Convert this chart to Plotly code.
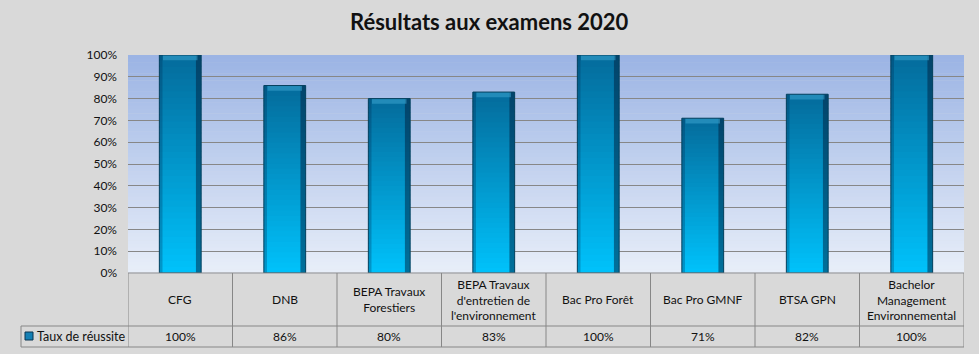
import plotly.graph_objects as go

# ---------------- data ----------------
categories = ["CFG", "DNB", "BEPA Travaux<br>Forestiers",
              "BEPA Travaux<br>d'entretien de<br>l'environnement",
              "Bac Pro Forêt", "Bac Pro GMNF", "BTSA GPN",
              "Bachelor<br>Management<br>Environnemental"]
values = [100, 86, 80, 83, 100, 71, 82, 100]
value_labels = ["100%", "86%", "80%", "83%", "100%", "71%", "82%", "100%"]
series_name = "Taux de réussite"
chart_title = "Résultats aux examens 2020"
y_ticks = [0, 10, 20, 30, 40, 50, 60, 70, 80, 90, 100]
y_tick_labels = ["0%", "10%", "20%", "30%", "40%", "50%", "60%", "70%", "80%", "90%", "100%"]

# ---------------- layout helpers ----------------
W, H = 979, 354
PLOT_L, PLOT_R, PLOT_T, PLOT_B = 128, 964, 55, 273
ROW1_B, ROW2_B, LEG_L = 326, 347, 21
FONT = "Lato, sans-serif"
GRID = "#878787"
TXT = "#111111"


def px(p):
    return p / W


def py(p):
    return 1 - p / H


x_pos = list(range(len(categories)))
BAR_W = 0.40

fig = go.Figure()

# gradient bars: per-bar vertical gradient built from stacked slices
N = 36
c_bot = (0, 193, 250)
c_top = (4, 108, 156)
for i in range(N):
    t = i / (N - 1)
    col = "rgb({},{},{})".format(*[round(c_bot[k] + (c_top[k] - c_bot[k]) * t) for k in range(3)])
    seg = [v / N * (1.0 if i == N - 1 else 1.25) for v in values]
    base = [v * i / N for v in values]
    fig.add_trace(go.Bar(x=x_pos, y=seg, base=base, width=BAR_W,
                         marker=dict(color=col, line=dict(width=0)),
                         showlegend=False, hoverinfo="skip"))

# bevel shading: right dark edge, left edge, top cap
fig.add_trace(go.Bar(x=x_pos, y=values, width=0.05, offset=BAR_W / 2 - 0.05,
                     marker=dict(color="rgba(0,30,60,0.5)", line=dict(width=0)),
                     showlegend=False, hoverinfo="skip"))
fig.add_trace(go.Bar(x=x_pos, y=values, width=0.03, offset=-BAR_W / 2,
                     marker=dict(color="rgba(0,40,80,0.28)", line=dict(width=0)),
                     showlegend=False, hoverinfo="skip"))
fig.add_trace(go.Bar(x=x_pos, y=[2.4 for v in values], base=[v - 2.4 for v in values],
                     width=BAR_W - 0.07,
                     marker=dict(color="rgba(60,165,210,0.55)", line=dict(width=0)),
                     showlegend=False, hoverinfo="skip"))
# outline / actual series
fig.add_trace(go.Bar(x=x_pos, y=values, width=BAR_W, name=series_name,
                     marker=dict(color="rgba(0,0,0,0)", line=dict(color="#06405e", width=1)),
                     showlegend=False))

shapes = []
# plot area gradient background
NB = 60
b_top = (155, 180, 228)
b_bot = (232, 238, 249)
for i in range(NB):
    t = i / NB
    col = "rgb({},{},{})".format(*[round(b_top[k] + (b_bot[k] - b_top[k]) * (t + 0.5 / NB)) for k in range(3)])
    shapes.append(dict(type="rect", xref="x domain", yref="y domain", x0=0, x1=1,
                       y0=1 - (i + 1) / NB - 0.002, y1=1 - i / NB, fillcolor=col,
                       line=dict(width=0), layer="below"))

# data table grid
line = dict(color=GRID, width=1)
shapes.append(dict(type="line", xref="paper", yref="paper", x0=px(PLOT_L), x1=px(PLOT_R),
                   y0=py(PLOT_B), y1=py(PLOT_B), line=line))
for yy in (ROW1_B, ROW2_B):
    shapes.append(dict(type="line", xref="paper", yref="paper", x0=px(LEG_L), x1=px(PLOT_R),
                       y0=py(yy), y1=py(yy), line=line))
for k in range(len(categories) + 1):
    shapes.append(dict(type="line", xref="x", yref="paper", x0=k - 0.5, x1=k - 0.5,
                       y0=py(PLOT_B), y1=py(ROW2_B), line=line))
shapes.append(dict(type="line", xref="paper", yref="paper", x0=px(LEG_L), x1=px(LEG_L),
                   y0=py(ROW1_B), y1=py(ROW2_B), line=line))
# legend key
shapes.append(dict(type="rect", xref="paper", yref="paper", x0=px(25), x1=px(33),
                   y0=py(340), y1=py(332), fillcolor="#1580b4",
                   line=dict(color="#0b3550", width=1)))

annotations = []
for i, (c, v) in enumerate(zip(categories, value_labels)):
    annotations.append(dict(x=i, xref="x", y=py((PLOT_B + ROW1_B) / 2), yref="paper",
                            text=c, showarrow=False, xanchor="center", yanchor="middle",
                            font=dict(family=FONT, size=12, color=TXT)))
    annotations.append(dict(x=i, xref="x", y=py((ROW1_B + ROW2_B) / 2), yref="paper",
                            text=v, showarrow=False, xanchor="center", yanchor="middle",
                            font=dict(family=FONT, size=12, color=TXT)))
annotations.append(dict(x=px(35), xref="paper", y=py((ROW1_B + ROW2_B) / 2), yref="paper",
                        text=series_name, showarrow=False, xanchor="left", yanchor="middle",
                        font=dict(family=FONT, size=12.5, color=TXT)))
# title
annotations.append(dict(x=0.5, xref="paper", y=py(22), yref="paper",
                        text="<b>" + chart_title + "</b>", showarrow=False,
                        xanchor="center", yanchor="middle",
                        font=dict(family=FONT, size=22, color=TXT)))

fig.update_layout(
    width=W, height=H,
    margin=dict(l=0, r=0, t=0, b=0, pad=0, autoexpand=False),
    paper_bgcolor="#d9d9d9",
    plot_bgcolor="rgba(0,0,0,0)",
    barmode="overlay",
    xaxis=dict(domain=[px(PLOT_L), px(PLOT_R)], range=[-0.5, len(categories) - 0.5],
               showticklabels=False, showgrid=False, zeroline=False, showline=False,
               automargin=False, fixedrange=True),
    yaxis=dict(domain=[py(PLOT_B), py(PLOT_T)], range=[0, 100], tickmode="array",
               tickvals=y_ticks, ticktext=y_tick_labels,
               showgrid=True, gridcolor=GRID, gridwidth=1, automargin=False,
               zeroline=False, showline=False, ticks="", ticklabelstandoff=10,
               tickfont=dict(family=FONT, size=12, color=TXT), fixedrange=True),
    shapes=shapes,
    annotations=annotations,
    showlegend=False,
)

fig.write_html("out.html")
